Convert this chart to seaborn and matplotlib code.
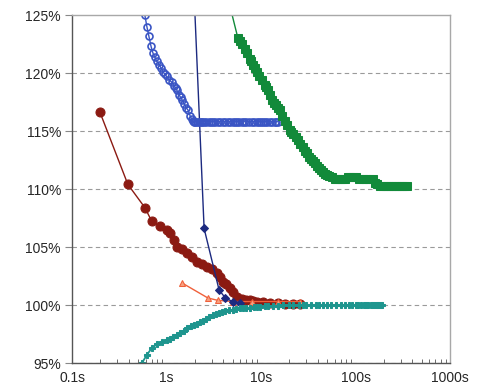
import matplotlib
matplotlib.use("Agg")
import matplotlib.pyplot as plt
import seaborn as sns
import numpy as np
from matplotlib.ticker import FixedLocator, LogLocator, NullFormatter

# ---- data (time in seconds, value in percent) ----
blue_x = [0.59, 0.62, 0.65, 0.686, 0.72, 0.75, 0.79, 0.84, 0.88, 0.918, 0.96, 1.0, 1.07, 1.14,
          1.2, 1.25, 1.29, 1.36, 1.41, 1.46, 1.55, 1.62, 1.69, 1.78, 1.85, 1.9,
          1.95, 2.0, 2.1, 2.2, 2.3, 2.4, 2.5, 2.65, 2.8, 2.95, 3.1, 3.3, 3.5, 3.7, 4.0, 4.2,
          4.5, 4.75, 5.0, 5.3, 5.6, 5.9, 6.3, 6.6, 7.0, 7.5, 8.0, 8.5, 9.0, 9.5, 10.0, 10.5,
          11.0, 11.7, 12.5, 13.2, 14.0, 14.5, 15.0]
blue_y = [125.0, 124.0, 123.2, 122.3, 121.7, 121.4, 121.0, 120.7, 120.4, 120.1, 119.9, 119.7,
          119.4, 119.2, 118.9, 118.7, 118.5, 118.1, 117.9, 117.7, 117.3, 117.0, 116.8, 116.3,
          116.0, 115.9] + [115.8] * 39

navy_x = [1.67, 2.5, 3.6, 4.2, 5.0, 6.0]
navy_y = [140.0, 106.6, 101.3, 100.6, 100.3, 100.2]

green_x = [4.3, 5.7, 6.0, 6.3, 6.7, 7.1, 7.6, 7.9, 8.2, 8.6, 9.0, 9.6, 10.3, 11.0, 11.4, 11.9,
           12.5, 13.1, 13.8, 14.5, 15.2, 15.9, 16.8, 17.9, 19.0, 20.3, 21.0, 22.0, 23.2, 24.6,
           26.0, 27.5, 29.0, 30.7, 32.3, 34.0, 35.6, 37.3, 39.0, 41.0, 43.0, 45.3, 47.5, 50.0,
           53.0, 56.0, 60.0, 63.7, 68.0, 72.0, 77.0, 83.0, 88.0, 94.0, 100.0, 110.0, 120.0,
           130.0, 140.0, 153.0, 160.0, 170.0, 181.0, 195.0, 210.0, 220.0, 240.0, 255.0, 270.0,
           290.0, 310.0, 330.0, 351.0]
green_y = [127.0, 123.0, 122.8, 122.5, 122.1, 121.7, 121.2, 121.0, 120.7, 120.4, 120.1, 119.7,
           119.4, 119.0, 118.8, 118.5, 118.1, 117.7, 117.4, 117.2, 117.0, 116.8, 116.3, 115.9,
           115.5, 115.1, 114.9, 114.7, 114.5, 114.2, 113.9, 113.6, 113.3, 113.1, 112.8, 112.6,
           112.4, 112.2, 112.0, 111.8, 111.6, 111.5, 111.3, 111.2, 111.1, 111.0, 110.9, 110.9,
           110.9, 110.9, 110.9, 111.0, 111.0, 111.0, 111.0, 110.9, 110.9, 110.9, 110.9, 110.9,
           110.5, 110.4, 110.3, 110.3, 110.3, 110.3, 110.3, 110.3, 110.3, 110.3, 110.3, 110.3,
           110.3]

red_x = [0.198, 0.39, 0.59, 0.70, 0.85, 1.01, 1.09, 1.2, 1.29, 1.45, 1.65, 1.85, 2.1, 2.4, 2.7,
         3.0, 3.4, 3.7, 3.96, 4.3, 4.7, 5.1, 5.6, 6.3, 7.0, 7.6, 8.3, 9.0, 10.5, 12.4, 15.0,
         18.0, 22.0, 26.0]
red_y = [116.6, 110.4, 108.4, 107.2, 106.8, 106.5, 106.2, 105.6, 105.0, 104.8, 104.5, 104.1,
         103.7, 103.5, 103.3, 103.1, 102.8, 102.4, 102.0, 101.8, 101.5, 101.1, 100.7, 100.5,
         100.45, 100.4, 100.35, 100.3, 100.25, 100.2, 100.15, 100.1, 100.1, 100.1]

orange_x = [1.46, 2.75, 3.5, 5.0, 8.0, 15.0, 26.0]
orange_y = [101.9, 100.6, 100.4, 100.3, 100.3, 100.3, 100.3]

teal_x = [0.55, 0.62, 0.70, 0.79, 0.9, 1.0, 1.08, 1.17, 1.28, 1.4, 1.52, 1.65, 1.8, 1.95, 2.1,
          2.26, 2.45, 2.6, 2.85, 3.1, 3.35, 3.6, 3.9, 4.2, 4.6, 5.06, 5.5, 6.0, 6.5, 7.0, 7.7,
          8.5, 9.1, 9.8, 11.0, 12.0, 13.5, 15.0, 17.0, 20.0, 22.0, 25.0, 27.5, 30.0, 34.0,
          38.0, 41.0, 45.0, 50.0, 55.0, 62.0, 70.0, 77.0, 85.0, 92.0, 100.0, 107.0, 115.0,
          122.0, 130.0, 137.0, 145.0, 152.0, 160.0, 167.0, 175.0, 182.0, 190.0]
teal_y = [95.0, 95.7, 96.3, 96.6, 96.8, 97.0, 97.1, 97.2, 97.4, 97.6, 97.8, 98.0, 98.15, 98.3,
          98.4, 98.5, 98.65, 98.8, 98.95, 99.1, 99.2, 99.3, 99.4, 99.5, 99.55, 99.6, 99.65,
          99.7, 99.72, 99.75, 99.78, 99.8, 99.82, 99.85, 99.88, 99.9, 99.92, 99.95, 99.97,
          100.0] + [100.0] * 28

x_ticks = [0.1, 1, 10, 100, 1000]
x_labels = ["0.1s", "1s", "10s", "100s", "1000s"]
y_ticks = [95, 100, 105, 110, 115, 120, 125]
y_labels = ["95%", "100%", "105%", "110%", "115%", "120%", "125%"]

# ---- style ----
sns.set_style("white")
plt.rcParams["font.family"] = ["Liberation Sans", "DejaVu Sans"]

fig = plt.figure(figsize=(4.8, 3.91), dpi=100)
ax = fig.add_axes([0.15, 0.0716, 0.7875, 0.89])

for yv in y_ticks[:-1]:
    ax.axhline(yv, color="#9a9a9a", lw=0.8, ls=(0, (4, 3)), zorder=0)

common = dict(estimator=None, sort=False, ax=ax, legend=False)

sns.lineplot(x=red_x, y=red_y, color="#8b1a12", lw=1.0, marker="o", markersize=6.5,
             markeredgecolor="#8b1a12", **common)
sns.lineplot(x=orange_x, y=orange_y, color="#f0603a", lw=1.0, marker="^", markersize=5,
             markerfacecolor="#f7a080", markeredgecolor="#f0603a", **common)
sns.lineplot(x=navy_x, y=navy_y, color="#1c2a80", lw=1.0, marker="D", markersize=4,
             markeredgecolor="#1c2a80", **common)
sns.lineplot(x=blue_x, y=blue_y, color="#3a55c4", lw=1.0, marker="o", markersize=5,
             markerfacecolor="none", markeredgecolor="#3a55c4", markeredgewidth=1.2, **common)
sns.lineplot(x=green_x, y=green_y, color="#128a3a", lw=1.0, marker="s", markersize=5.5,
             markeredgecolor="#128a3a", **common)
sns.lineplot(x=teal_x, y=teal_y, color="#1e958e", lw=1.3, marker="P", markersize=5,
             markeredgecolor="#1e958e", **common)

ax.set_xscale("log")
ax.set_xlim(0.1, 1000)
ax.set_ylim(95, 125)
ax.xaxis.set_major_locator(FixedLocator(x_ticks))
ax.set_xticks(x_ticks)
ax.set_xticklabels(x_labels)
ax.xaxis.set_minor_locator(LogLocator(base=10, subs=np.arange(2, 10)))
ax.xaxis.set_minor_formatter(NullFormatter())
ax.set_yticks(y_ticks)
ax.set_yticklabels(y_labels)
ax.set_xlabel("")
ax.set_ylabel("")

ax.tick_params(axis="x", which="major", direction="in", length=5, width=0.8,
               color="#555555", labelsize=10, pad=6)
ax.tick_params(axis="x", which="minor", direction="in", length=3, width=0.6,
               color="#555555", bottom=True)
ax.tick_params(axis="y", which="major", direction="out", length=5, width=0.8,
               color="#888888", labelsize=10, pad=3, left=True)

for side in ["left", "bottom"]:
    ax.spines[side].set_color("#555555")
    ax.spines[side].set_linewidth(1.0)
for side in ["top", "right"]:
    ax.spines[side].set_color("#a8a8a8")
    ax.spines[side].set_linewidth(1.0)

fig.savefig("out.png", dpi=100)
